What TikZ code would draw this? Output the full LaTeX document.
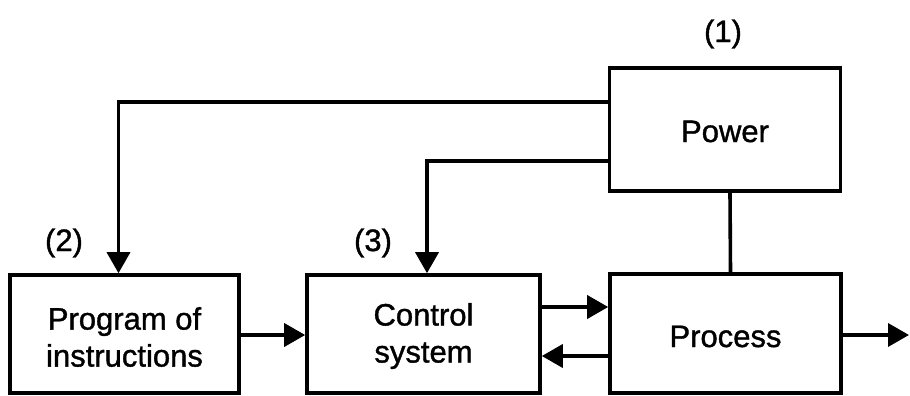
\documentclass[tikz,border=0pt]{standalone}
\usepackage{fontspec}
\setmainfont{Liberation Sans}[FakeBold=1.2]
\usetikzlibrary{arrows.meta}
\begin{document}
\begin{tikzpicture}[x=1pt,y=-1pt,
  blk/.style={draw,line width=3.6pt,inner sep=0pt},
  txt/.style={inner sep=0pt,align=center,
    font=\fontsize{31}{37}\selectfont},
  lbl/.style={inner sep=0pt,font=\fontsize{31}{37}\selectfont},
  conn/.style={line width=3.6pt},
  arr/.style={conn,-{Triangle[length=21pt,width=23pt]}}]
\useasboundingbox (0,0) rectangle (910,396);
\node[blk,minimum width=231pt,minimum height=123pt] (power) at (725,129.5) {};
\node[blk,minimum width=229pt,minimum height=118pt] (prog) at (124.5,334) {};
\node[blk,minimum width=233pt,minimum height=118pt] (ctrl) at (423.5,334) {};
\node[blk,minimum width=231pt,minimum height=119pt] (proc) at (725.5,333.5) {};
\node[txt] (tpower) at ([yshift=-2pt]power.center) {Power};
\node[txt] (tprog) at ([yshift=-3pt]prog.center) {Program of\\instructions};
\node[txt] (tctrl) at ([yshift=-2pt]ctrl.center) {Control\\system};
\node[txt] (tproc) at ([yshift=-3pt]proc.center) {Process};
\node[lbl] (l1) at (723,34) {(1)};
\node[lbl] (l2) at (64,243) {(2)};
\node[lbl] (l3) at (373,243) {(3)};
\coordinate (out) at (909,335);
\draw[arr] ([yshift=27.5pt]power.west) -| ([xshift=-6pt]prog.north);
\draw[arr] ([yshift=-31.5pt]power.west) -| ([xshift=3.5pt]ctrl.north);
\draw[conn] ([xshift=5pt]power.south) -- ([xshift=5pt]proc.north);
\draw[arr] ([yshift=-1pt]prog.east) -- ([yshift=-1pt]ctrl.west);
\draw[arr] ([yshift=27pt]ctrl.east) -- ([yshift=26.5pt]proc.west);
\draw[arr] ([yshift=-22.5pt]proc.west) -- ([yshift=-22pt]ctrl.east);
\draw[arr] (proc.east |- out) -- (out);
\end{tikzpicture}
\end{document}
